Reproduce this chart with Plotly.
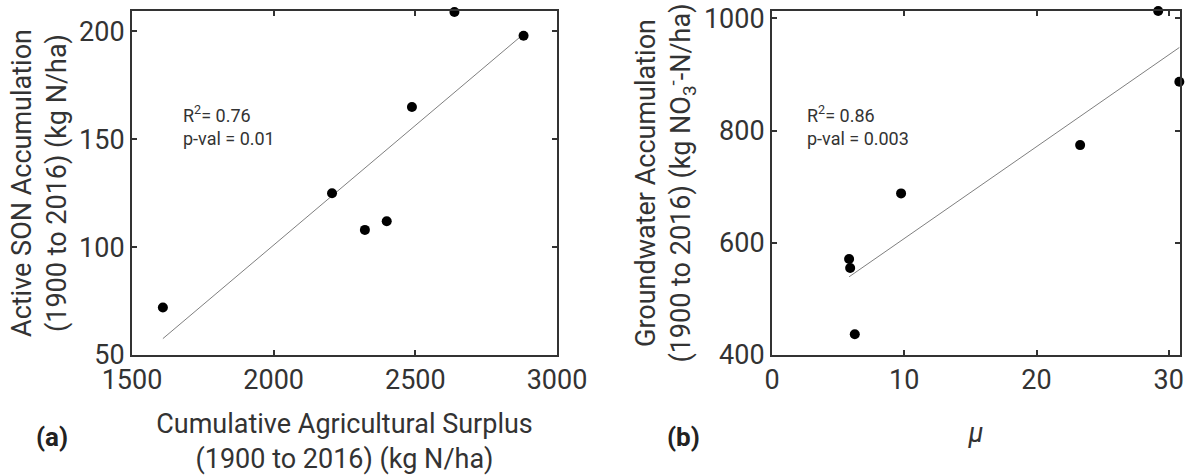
import numpy as np
import plotly.graph_objects as go

# Panel (a) data
surplus_a = [1609, 2206, 2322, 2399, 2488, 2638, 2882]
son_a = [72, 125, 108, 112, 165, 209, 198]

# Panel (b) data
mu_b = [29.2, 30.8, 23.3, 9.76, 5.83, 5.91, 6.26]
gw_b = [1013, 887, 774, 688, 571, 555, 437]

TXT = "#333333"
FONT = "Roboto"

fig = go.Figure()


def add_panel(x, y, xa, ya):
    x = np.array(x, float)
    y = np.array(y, float)
    m, c = np.polyfit(x, y, 1)
    xs = np.array([x.min(), x.max()])
    fig.add_trace(go.Scatter(x=xs, y=m * xs + c, mode="lines",
                             line=dict(color="#7f7f7f", width=1),
                             xaxis=xa, yaxis=ya, showlegend=False, hoverinfo="skip"))
    fig.add_trace(go.Scatter(x=x, y=y, mode="markers",
                             marker=dict(color="black", size=10),
                             cliponaxis=False,
                             xaxis=xa, yaxis=ya, showlegend=False))


add_panel(surplus_a, son_a, "x", "y")
add_panel(mu_b, gw_b, "x2", "y2")

ax_common = dict(showline=True, linecolor="#333333", linewidth=2, mirror="allticks",
                 ticks="inside", ticklen=5, tickwidth=1.5, tickcolor="#333333",
                 showgrid=False, zeroline=False, automargin=False,
                 tickfont=dict(family=FONT, size=27, color=TXT),
                 title_font=dict(family=FONT, size=27, color=TXT))

yd = [1 - 355 / 475, 1 - 11 / 475]

fig.update_layout(
    width=1189, height=475,
    margin=dict(l=0, r=0, t=0, b=0),
    paper_bgcolor="white", plot_bgcolor="white",
    font=dict(family=FONT, color=TXT),
    xaxis=dict(ax_common, domain=[132 / 1189, 557 / 1189], range=[1500, 3000],
               tickvals=[1500, 2000, 2500, 3000], anchor="y",
               title=dict(text="Cumulative Agricultural Surplus<br>(1900 to 2016) (kg N/ha)", standoff=28)),
    yaxis=dict(ax_common, domain=yd, range=[50, 209.5], tickvals=[50, 100, 150, 200], anchor="x",
               title=dict(text="Active SON Accumulation<br>(1900 to 2016) (kg N/ha)", standoff=5)),
    xaxis2=dict(ax_common, domain=[772 / 1189, 1180 / 1189], range=[0, 30.85],
                tickvals=[0, 10, 20, 30], anchor="y2",
                title=dict(text="<i>μ</i>", standoff=28)),
    yaxis2=dict(ax_common, domain=yd, range=[400, 1013], tickvals=[400, 600, 800, 1000], anchor="x2",
                title=dict(text="Groundwater Accumulation<br>(1900 to 2016) (kg NO<sub>3</sub><sup>-</sup>-N/ha)",
                           standoff=5)),
    annotations=[
        dict(text="R<sup>2</sup>= 0.76<br>p-val = 0.01", xref="paper", yref="paper",
             x=181 / 1189, y=1 - 100 / 475, xanchor="left", yanchor="top", align="left",
             showarrow=False, font=dict(family=FONT, size=18, color=TXT)),
        dict(text="R<sup>2</sup>= 0.86<br>p-val = 0.003", xref="paper", yref="paper",
             x=805 / 1189, y=1 - 100 / 475, xanchor="left", yanchor="top", align="left",
             showarrow=False, font=dict(family=FONT, size=18, color=TXT)),
        dict(text="<b>(a)</b>", xref="paper", yref="paper", x=52 / 1189, y=1 - 437 / 475,
             xanchor="center", yanchor="middle", showarrow=False,
             font=dict(family=FONT, size=26, color="#222222")),
        dict(text="<b>(b)</b>", xref="paper", yref="paper", x=683 / 1189, y=1 - 437 / 475,
             xanchor="center", yanchor="middle", showarrow=False,
             font=dict(family=FONT, size=26, color="#222222")),
    ],
)

fig.write_html("out.html")
